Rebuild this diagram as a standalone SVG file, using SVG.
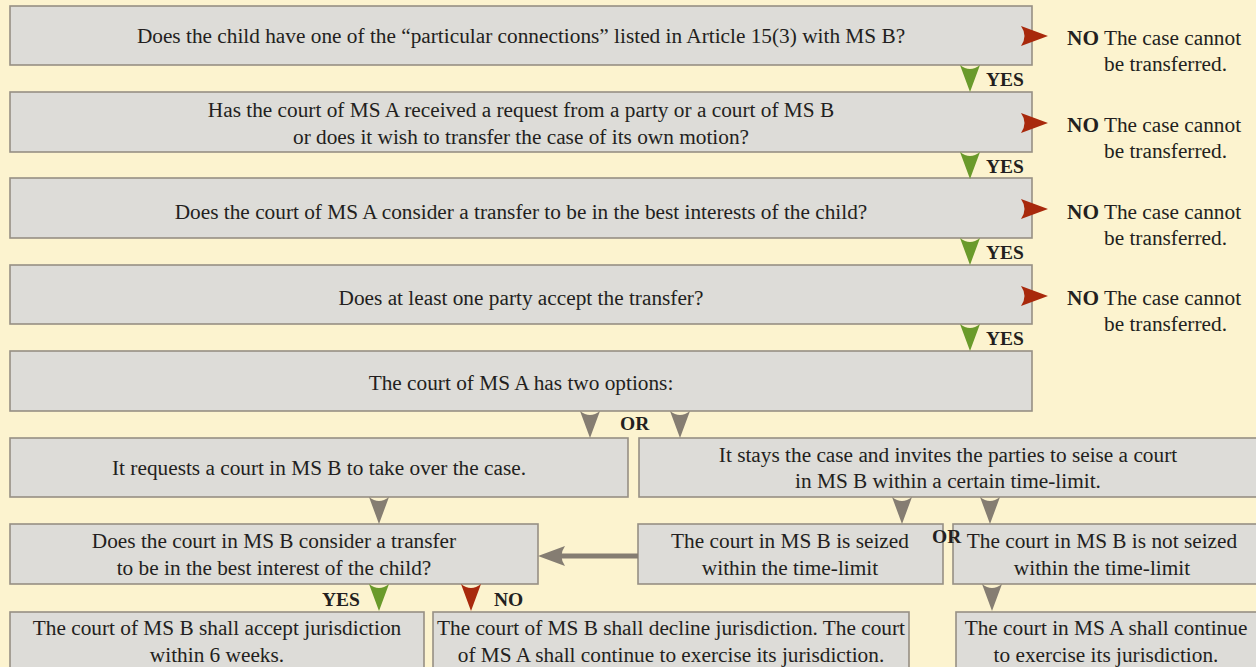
<svg xmlns="http://www.w3.org/2000/svg" width="1256" height="667" viewBox="0 0 1256 667">
<style>
.bx{fill:#dddcd8;stroke:#968f84;stroke-width:1.6}
.t{font-family:"Liberation Serif",serif;font-size:21.3px;fill:#231f20;text-anchor:middle}
.tl{font-family:"Liberation Serif",serif;font-size:21.3px;fill:#231f20}
.lb{font-family:"Liberation Serif",serif;font-size:19.5px;fill:#231f20;font-weight:bold}
.b{font-weight:bold}
.g{fill:#6a9a2b}
.r{fill:#a8290c}
.k{fill:#857d72}
</style>
<defs>
<path id="dn" d="M-10,0 Q0,8 10,0 L0,27 Z"/>
<path id="rt" d="M0,-10 Q7,0 0,10 L27,0 Z"/>
</defs>
<rect width="1256" height="667" fill="#fcf3cf"/>
<g id="n1"><rect class="bx" x="10" y="6" width="1022" height="59"/><text class="t" x="521" y="43">Does the child have one of the “particular connections” listed in Article 15(3) with MS B?</text></g>
<g id="no1"><text class="tl" x="1067" y="45"><tspan class="b">NO</tspan> The case cannot</text><text class="tl" x="1104" y="71">be transferred.</text></g>
<g id="n2"><rect class="bx" x="10" y="92" width="1022" height="60"/><text class="t" x="521" y="117">Has the court of MS A received a request from a party or a court of MS B</text><text class="t" x="521" y="144">or does it wish to transfer the case of its own motion?</text></g>
<g id="no2"><text class="tl" x="1067" y="132"><tspan class="b">NO</tspan> The case cannot</text><text class="tl" x="1104" y="158">be transferred.</text></g>
<g id="n3"><rect class="bx" x="10" y="178" width="1022" height="60"/><text class="t" x="521" y="219">Does the court of MS A consider a transfer to be in the best interests of the child?</text></g>
<g id="no3"><text class="tl" x="1067" y="219"><tspan class="b">NO</tspan> The case cannot</text><text class="tl" x="1104" y="245">be transferred.</text></g>
<g id="n4"><rect class="bx" x="10" y="265" width="1022" height="59"/><text class="t" x="521" y="305">Does at least one party accept the transfer?</text></g>
<g id="no4"><text class="tl" x="1067" y="305"><tspan class="b">NO</tspan> The case cannot</text><text class="tl" x="1104" y="331">be transferred.</text></g>
<g id="n5"><rect class="bx" x="10" y="351" width="1022" height="60"/><text class="t" x="521" y="390">The court of MS A has two options:</text></g>
<g id="n6"><rect class="bx" x="10" y="438" width="618" height="59"/><text class="t" x="319" y="475">It requests a court in MS B to take over the case.</text></g>
<g id="n7"><rect class="bx" x="639" y="438" width="620" height="59"/><text class="t" x="948" y="462">It stays the case and invites the parties to seise a court</text><text class="t" x="948" y="488">in MS B within a certain time-limit.</text></g>
<g id="n8"><rect class="bx" x="10" y="524" width="528" height="60"/><text class="t" x="274" y="548">Does the court in MS B consider a transfer</text><text class="t" x="274" y="575">to be in the best interest of the child?</text></g>
<g id="n9"><rect class="bx" x="638" y="524" width="305" height="60"/><text class="t" x="790" y="548">The court in MS B is seized</text><text class="t" x="790" y="575">within the time-limit</text></g>
<g id="n10"><rect class="bx" x="953" y="524" width="306" height="60"/><text class="t" x="1102" y="548">The court in MS B is not seized</text><text class="t" x="1102" y="575">within the time-limit</text></g>
<g id="n11"><rect class="bx" x="10" y="612" width="414" height="60"/><text class="t" x="217" y="635">The court of MS B shall accept jurisdiction</text><text class="t" x="217" y="662">within 6 weeks.</text></g>
<g id="n12"><rect class="bx" x="433" y="612" width="476" height="60"/><text class="t" x="671" y="635">The court of MS B shall decline jurisdiction. The court</text><text class="t" x="671" y="662">of MS A shall continue to exercise its jurisdiction.</text></g>
<g id="n13"><rect class="bx" x="956" y="612" width="303" height="60"/><text class="t" x="1106" y="635">The court in MS A shall continue</text><text class="t" x="1106" y="662">to exercise its jurisdiction.</text></g>
<g id="connectors">
<use href="#rt" class="r" x="1021" y="36"/>
<use href="#rt" class="r" x="1021" y="123"/>
<use href="#rt" class="r" x="1021" y="209"/>
<use href="#rt" class="r" x="1021" y="296"/>
<use href="#dn" class="g" x="970" y="65"/>
<use href="#dn" class="g" x="970" y="152"/>
<use href="#dn" class="g" x="970" y="238"/>
<use href="#dn" class="g" x="970" y="324"/>
<use href="#dn" class="k" x="590" y="411"/>
<use href="#dn" class="k" x="680" y="411"/>
<use href="#dn" class="k" x="379" y="497"/>
<use href="#dn" class="k" x="902" y="497"/>
<use href="#dn" class="k" x="990" y="497"/>
<use href="#dn" class="g" x="379" y="584"/>
<use href="#dn" class="r" x="471" y="584"/>
<use href="#dn" class="k" x="992" y="584"/>
<line x1="638" y1="556" x2="560" y2="556" stroke="#857d72" stroke-width="5"/>
<path d="M565,546 Q558,556 565,566 L538,556 Z" class="k"/>
<text class="lb" x="986" y="86">YES</text>
<text class="lb" x="986" y="173">YES</text>
<text class="lb" x="986" y="259">YES</text>
<text class="lb" x="986" y="345">YES</text>
<text class="lb" x="620" y="430">OR</text>
<text class="lb" x="932" y="543">OR</text>
<text class="lb" x="322" y="606">YES</text>
<text class="lb" x="494" y="606">NO</text>
</g>
</svg>
